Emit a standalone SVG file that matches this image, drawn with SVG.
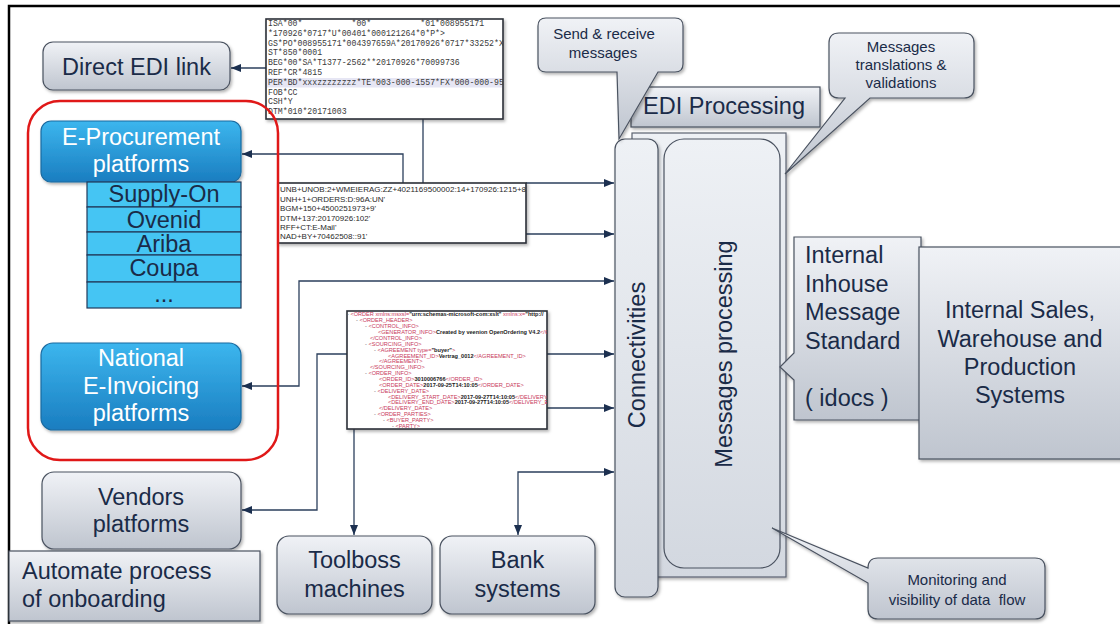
<svg xmlns="http://www.w3.org/2000/svg" width="1120" height="624" viewBox="0 0 1120 624">
  <style>
    .lbl { font-family: "Liberation Sans", Arial, sans-serif; fill: #1a2b48; }
    .big { font-size: 23.5px; }
    .small { font-size: 15px; }
    .white { fill: #ffffff; }
    .gbox { fill: url(#gGray); stroke: #4a5260; stroke-width: 1.2; filter: url(#shadow); }
    .bbox { fill: url(#gBlue); stroke: #1a6aa0; stroke-width: 1.2; filter: url(#shadow); }
    .row { fill: #45c5f3; stroke: #22395a; stroke-width: 1.2; }
    .doc { fill: #ffffff; stroke: #2a2f38; stroke-width: 1.6; filter: url(#shadow); }
    .edi { font-family: "Liberation Mono", "Courier New", monospace; font-size: 8.2px; fill: #3a3a3a; }
    .unb { font-family: "Liberation Sans", Arial, sans-serif; font-size: 8px; fill: #2a2a2a; }
    .xml { font-family: "Liberation Sans", Arial, sans-serif; font-size: 5.6px; }
    .tag { fill: #c8385a; }
    .hy { fill: #666; }
    .val { fill: #222; font-weight: bold; }
    .wire { fill: none; stroke: #2b3f5c; stroke-width: 1.3; }
    .frame { fill: none; stroke: #000; stroke-width: 2.5; }
  </style>
  <defs>
    <linearGradient id="gGray" x1="0" y1="0" x2="0" y2="1">
      <stop offset="0" stop-color="#f0f2f6"/>
      <stop offset="1" stop-color="#bfc5cf"/>
    </linearGradient>
    <linearGradient id="gPanel" x1="0" y1="0" x2="0" y2="1">
      <stop offset="0" stop-color="#eef1f5"/>
      <stop offset="1" stop-color="#d3d8e0"/>
    </linearGradient>
    <linearGradient id="gBlue" x1="0" y1="0" x2="0" y2="1">
      <stop offset="0" stop-color="#3cb6ee"/>
      <stop offset="1" stop-color="#1a7dc0"/>
    </linearGradient>
    <marker id="arr" markerUnits="userSpaceOnUse" markerWidth="10" markerHeight="8" refX="10" refY="4" orient="auto-start-reverse">
      <path d="M0,0 L10,4 L0,8 Z" fill="#1c3050"/>
    </marker>
    <filter id="shadow" x="-10%" y="-10%" width="130%" height="130%">
      <feDropShadow dx="1.5" dy="2" stdDeviation="1.5" flood-color="#000" flood-opacity="0.3"/>
    </filter>
    <clipPath id="clipEdi"><rect x="266" y="19" width="237" height="100"/></clipPath>
    <clipPath id="clipUnb"><rect x="278" y="183" width="248" height="60"/></clipPath>
    <clipPath id="clipXml"><rect x="347" y="311" width="200" height="118"/></clipPath>
  </defs>

  <rect x="0" y="0" width="1120" height="624" fill="#ffffff"/>
  <path class="frame" d="M9,626 V6 H1122"/>

  <!-- connectors -->
  <g id="connectors">
    <path class="wire" d="M266,68 H231" marker-end="url(#arr)"/>
    <path class="wire" d="M423,119 V183"/>
    <path class="wire" d="M403,183 V154 H242" marker-end="url(#arr)"/>
    <path class="wire" d="M526,183 H614" marker-end="url(#arr)"/>
    <path class="wire" d="M526,234 H614" marker-end="url(#arr)"/>
    <path class="wire" d="M242,386 H299 V281 H614" marker-start="url(#arr)" marker-end="url(#arr)"/>
    <path class="wire" d="M547,354 H614" marker-end="url(#arr)"/>
    <path class="wire" d="M547,408 H614" marker-end="url(#arr)"/>
    <path class="wire" d="M347,354 H317 V510 H242" marker-end="url(#arr)"/>
    <path class="wire" d="M354,429 V535" marker-end="url(#arr)"/>
    <path class="wire" d="M518,535 V472 H614" marker-start="url(#arr)" marker-end="url(#arr)"/>
  </g>

  <!-- X12 sample document -->
  <g id="doc-x12">
    <rect class="doc" x="266" y="19" width="237" height="100"/>
    <rect x="267" y="78" width="235" height="9.5" fill="#e6e6f4"/>
    <g clip-path="url(#clipEdi)">
      <text class="edi" x="268" y="26" xml:space="preserve">ISA*00*          *00*          *01*008955171</text>
      <text class="edi" x="268" y="35.8">*170926*0717*U*00401*000121264*0*P*&gt;</text>
      <text class="edi" x="268" y="45.6">GS*PO*008955171*004397659A*20170926*0717*33252*X</text>
      <text class="edi" x="268" y="55.4">ST*850*0001</text>
      <text class="edi" x="268" y="65.2">BEG*00*SA*T1377-2562**20170926*70099736</text>
      <text class="edi" x="268" y="75">REF*CR*4815</text>
      <text class="edi" x="268" y="84.8">PER*BD*xxxzzzzzzzz*TE*003-000-1557*FX*000-000-95</text>
      <text class="edi" x="268" y="94.6">FOB*CC</text>
      <text class="edi" x="268" y="104.4">CSH*Y</text>
      <text class="edi" x="268" y="114.2">DTM*010*20171003</text>
    </g>
  </g>

  <!-- EDIFACT sample document -->
  <g id="doc-edifact">
    <rect class="doc" x="278" y="183" width="248" height="60"/>
    <g clip-path="url(#clipUnb)">
      <text class="unb" x="280" y="192">UNB+UNOB:2+WMEIERAG:ZZ+4021169500002:14+170926:1215+80408</text>
      <text class="unb" x="280" y="201.5">UNH+1+ORDERS:D:96A:UN'</text>
      <text class="unb" x="280" y="211">BGM+150+4500251973+9'</text>
      <text class="unb" x="280" y="220.5">DTM+137:20170926:102'</text>
      <text class="unb" x="280" y="229.5">RFF+CT:E-Mail'</text>
      <text class="unb" x="280" y="239">NAD+BY+70462508::91'</text>
    </g>
  </g>

  <!-- XML sample document -->
  <g id="doc-xml">
    <rect class="doc" x="347" y="311" width="200" height="118"/>
    <g clip-path="url(#clipXml)" class="xml">
      <text x="347" y="316"><tspan class="hy">- </tspan><tspan class="tag">&lt;ORDER xmlns:msxsl=</tspan><tspan class="val" fill="#a01020">"urn:schemas-microsoft-com:xslt"</tspan><tspan class="tag"> xmlns:x=</tspan><tspan class="val" fill="#a01020">"http://</tspan></text>
      <text x="356" y="322"><tspan class="hy">- </tspan><tspan class="tag">&lt;ORDER_HEADER&gt;</tspan></text>
      <text x="365" y="328"><tspan class="hy">- </tspan><tspan class="tag">&lt;CONTROL_INFO&gt;</tspan></text>
      <text x="378" y="334"><tspan class="tag">&lt;GENERATOR_INFO&gt;</tspan><tspan class="val">Created by veenion OpenOrdering V4.2</tspan><tspan class="tag">&lt;/GENERATOR_INFO&gt;</tspan></text>
      <text x="370" y="340"><tspan class="tag">&lt;/CONTROL_INFO&gt;</tspan></text>
      <text x="365" y="345.5"><tspan class="hy">- </tspan><tspan class="tag">&lt;SOURCING_INFO&gt;</tspan></text>
      <text x="374" y="351.5"><tspan class="hy">- </tspan><tspan class="tag">&lt;AGREEMENT type=</tspan><tspan class="val">"buyer"</tspan><tspan class="tag">&gt;</tspan></text>
      <text x="388" y="357.5"><tspan class="tag">&lt;AGREEMENT_ID&gt;</tspan><tspan class="val">Vertrag_0012</tspan><tspan class="tag">&lt;/AGREEMENT_ID&gt;</tspan></text>
      <text x="379" y="363"><tspan class="tag">&lt;/AGREEMENT&gt;</tspan></text>
      <text x="370" y="369"><tspan class="tag">&lt;/SOURCING_INFO&gt;</tspan></text>
      <text x="365" y="375"><tspan class="hy">- </tspan><tspan class="tag">&lt;ORDER_INFO&gt;</tspan></text>
      <text x="379" y="381"><tspan class="tag">&lt;ORDER_ID&gt;</tspan><tspan class="val">3010006766</tspan><tspan class="tag">&lt;/ORDER_ID&gt;</tspan></text>
      <text x="379" y="386.5"><tspan class="tag">&lt;ORDER_DATE&gt;</tspan><tspan class="val">2017-09-25T14:10:05</tspan><tspan class="tag">&lt;/ORDER_DATE&gt;</tspan></text>
      <text x="374" y="392.5"><tspan class="hy">- </tspan><tspan class="tag">&lt;DELIVERY_DATE&gt;</tspan></text>
      <text x="388" y="398.5"><tspan class="tag">&lt;DELIVERY_START_DATE&gt;</tspan><tspan class="val">2017-09-27T14:10:05</tspan><tspan class="tag">&lt;/DELIVERY_START_DATE&gt;</tspan></text>
      <text x="388" y="404"><tspan class="tag">&lt;DELIVERY_END_DATE&gt;</tspan><tspan class="val">2017-09-27T14:10:05</tspan><tspan class="tag">&lt;/DELIVERY_END_DATE&gt;</tspan></text>
      <text x="379" y="410"><tspan class="tag">&lt;/DELIVERY_DATE&gt;</tspan></text>
      <text x="374" y="416"><tspan class="hy">- </tspan><tspan class="tag">&lt;ORDER_PARTIES&gt;</tspan></text>
      <text x="383" y="421.5"><tspan class="hy">- </tspan><tspan class="tag">&lt;BUYER_PARTY&gt;</tspan></text>
      <text x="392" y="427.5"><tspan class="hy">- </tspan><tspan class="tag">&lt;PARTY&gt;</tspan></text>
    </g>
  </g>

  <!-- left side partners -->
  <g id="direct-edi">
    <rect class="gbox" x="43" y="42" width="187" height="48" rx="10"/>
    <text class="lbl big" x="136.5" y="74.5" text-anchor="middle">Direct EDI link</text>
  </g>

  <g id="platform-group">
    <rect x="28" y="101" width="250" height="359" rx="32" fill="none" stroke="#e01818" stroke-width="2.5"/>
  </g>

  <g id="e-procurement">
    <rect class="bbox" x="41" y="121" width="200" height="61" rx="10"/>
    <text class="lbl big white" x="141" y="145" text-anchor="middle">E-Procurement</text>
    <text class="lbl big white" x="141" y="172" text-anchor="middle">platforms</text>
  </g>

  <g id="platform-list">
    <rect class="row" x="87" y="182" width="154" height="25"/>
    <rect class="row" x="87" y="207" width="154" height="25"/>
    <rect class="row" x="87" y="232" width="154" height="23"/>
    <rect class="row" x="87" y="255" width="154" height="27"/>
    <rect class="row" x="87" y="282" width="154" height="26"/>
    <text class="lbl big" x="164" y="201.5" text-anchor="middle">Supply-On</text>
    <text class="lbl big" x="164" y="228" text-anchor="middle">Ovenid</text>
    <text class="lbl big" x="164" y="252" text-anchor="middle">Ariba</text>
    <text class="lbl big" x="164" y="276" text-anchor="middle">Coupa</text>
    <text class="lbl big" x="164" y="302" text-anchor="middle">...</text>
  </g>

  <g id="e-invoicing">
    <rect class="bbox" x="41" y="343" width="200" height="87" rx="12"/>
    <text class="lbl big white" x="141" y="366" text-anchor="middle">National</text>
    <text class="lbl big white" x="141" y="394" text-anchor="middle">E-Invoicing</text>
    <text class="lbl big white" x="141" y="421" text-anchor="middle">platforms</text>
  </g>

  <g id="vendors">
    <rect class="gbox" x="42" y="472" width="199" height="77" rx="12"/>
    <text class="lbl big" x="141" y="505" text-anchor="middle">Vendors</text>
    <text class="lbl big" x="141" y="532" text-anchor="middle">platforms</text>
  </g>

  <g id="onboarding">
    <rect class="gbox" x="9" y="551" width="251" height="70"/>
    <text class="lbl big" x="22" y="579">Automate process</text>
    <text class="lbl big" x="22" y="607">of onboarding</text>
  </g>

  <g id="toolboss">
    <rect class="gbox" x="277" y="536" width="155" height="78" rx="12"/>
    <text class="lbl big" x="354.5" y="568" text-anchor="middle">Toolboss</text>
    <text class="lbl big" x="354.5" y="597" text-anchor="middle">machines</text>
  </g>

  <g id="bank">
    <rect class="gbox" x="440" y="536" width="155" height="78" rx="12"/>
    <text class="lbl big" x="517.5" y="568" text-anchor="middle">Bank</text>
    <text class="lbl big" x="517.5" y="597" text-anchor="middle">systems</text>
  </g>

  <!-- EDI processing block -->
  <g id="edi-processing">
    <rect x="632" y="133" width="154" height="444" fill="url(#gPanel)" stroke="#5a6270" stroke-width="1.2" filter="url(#shadow)"/>
    <rect class="gbox" x="631" y="87" width="189" height="40"/>
    <text class="lbl big" x="643" y="114">EDI Processing</text>
  </g>

  <g id="connectivities">
    <rect x="615" y="139" width="43" height="458" rx="10" fill="url(#gPanel)" stroke="#4a5260" stroke-width="1.2" filter="url(#shadow)"/>
    <text class="lbl big" transform="translate(645,355) rotate(-90)" text-anchor="middle">Connectivities</text>
  </g>

  <g id="messages-processing">
    <rect x="664" y="139" width="116" height="429" rx="20" fill="url(#gPanel)" stroke="#4a5260" stroke-width="1.2"/>
    <text class="lbl big" transform="translate(732,354) rotate(-90)" text-anchor="middle">Messages processing</text>
  </g>

  <g id="callout-send">
    <path class="gbox" d="M546,18 H675 Q683,18 683,26 V64 Q683,72 675,72 H658 L619,139 L617,72 H546 Q538,72 538,64 V26 Q538,18 546,18 Z"/>
    <text class="lbl small" x="604" y="39" text-anchor="middle">Send &amp; receive</text>
    <text class="lbl small" x="603" y="58" text-anchor="middle">messages</text>
  </g>

  <g id="callout-translate">
    <path class="gbox" d="M839,33 H964 Q974,33 974,43 V88 Q974,98 964,98 H870 L785,174 L845,98 H839 Q829,98 829,88 V43 Q829,33 839,33 Z"/>
    <text class="lbl small" x="901" y="52" text-anchor="middle">Messages</text>
    <text class="lbl small" x="901" y="70" text-anchor="middle">translations &amp;</text>
    <text class="lbl small" x="901" y="88" text-anchor="middle">validations</text>
  </g>

  <g id="inhouse-standard">
    <path class="gbox" d="M794,237 H921 V420 H794 V380 L780,367 L794,353 Z"/>
    <text class="lbl big" x="805" y="263">Internal</text>
    <text class="lbl big" x="805" y="292">Inhouse</text>
    <text class="lbl big" x="805" y="320">Message</text>
    <text class="lbl big" x="805" y="349">Standard</text>
    <text class="lbl big" x="805" y="406">( idocs )</text>
  </g>

  <g id="internal-systems">
    <rect class="gbox" x="919" y="247" width="210" height="212"/>
    <text class="lbl big" x="1020" y="318" text-anchor="middle">Internal Sales,</text>
    <text class="lbl big" x="1020" y="347" text-anchor="middle">Warehouse and</text>
    <text class="lbl big" x="1020" y="375" text-anchor="middle">Production</text>
    <text class="lbl big" x="1020" y="403" text-anchor="middle">Systems</text>
  </g>

  <g id="callout-monitoring">
    <path class="gbox" d="M878,558 H1035 Q1045,558 1045,568 V609 Q1045,619 1035,619 H878 Q868,619 868,609 V583 L772,528 L868,568 Q868,558 878,558 Z"/>
    <text class="lbl small" x="957" y="585" text-anchor="middle">Monitoring and</text>
    <text class="lbl small" x="957" y="605" text-anchor="middle" xml:space="preserve">visibility of data  flow</text>
  </g>
</svg>
